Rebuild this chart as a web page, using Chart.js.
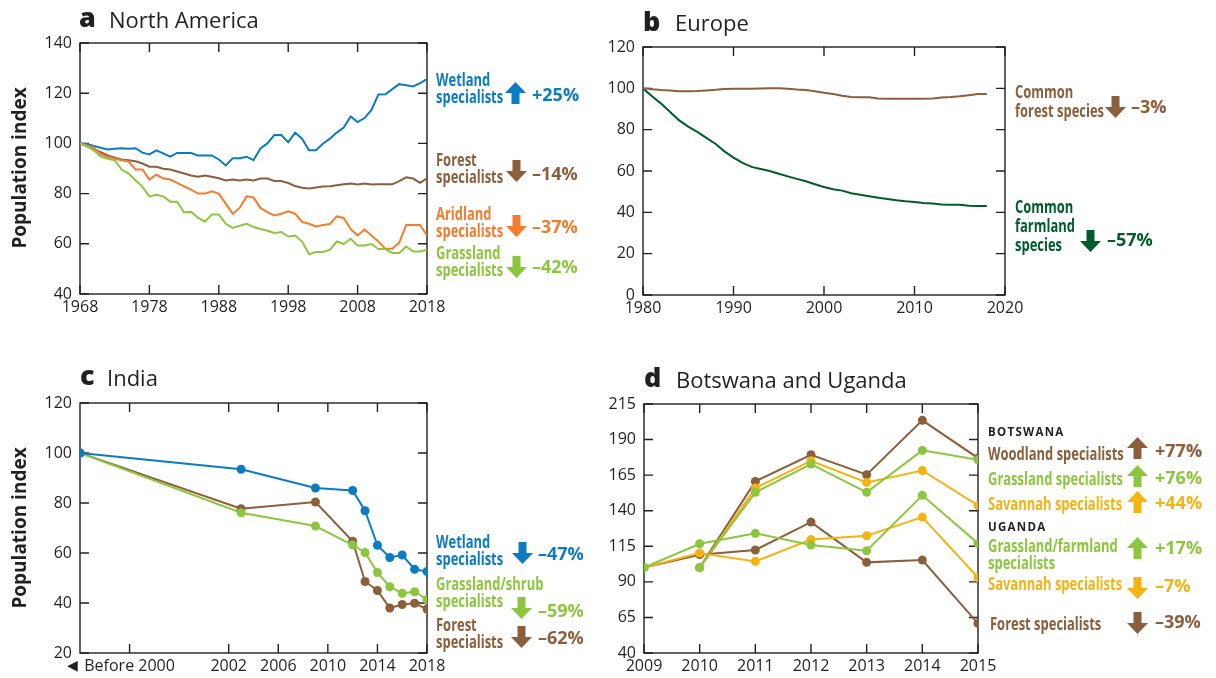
<!DOCTYPE html>
<html>
<head>
<meta charset="utf-8">
<script src="https://cdn.jsdelivr.net/npm/chart.js@4.4.1/dist/chart.umd.min.js"></script>
<style>
  body { margin: 0; width: 1216px; height: 678px; position: relative; overflow: hidden; background: #fff;
         font-family: "Open Sans", sans-serif; color: #231f20; }
  .box { position: absolute; }
  .t { position: absolute; white-space: nowrap; }
  .let { font-size: 27px; line-height: 27px; font-weight: 800; }
  .ttl { font-size: 22px; line-height: 22px; }
  .sl { font-weight: bold; font-size: 18px; line-height: 17px; transform: scaleX(0.72); transform-origin: 0 0; }
  .pc { font-weight: bold; font-size: 18px; line-height: 18px; }
  .cap { font-weight: bold; font-size: 11.5px; line-height: 12px; letter-spacing: 1.3px; }
  .yt { font-weight: bold; font-size: 19px; line-height: 19px; transform: translate(-50%, -50%) rotate(-90deg); }
</style>
</head>
<body>

<div class="box" style="left:0;top:0;width:470px;height:330px"><canvas id="na"></canvas></div>
<div class="box" style="left:560px;top:0;width:480px;height:330px"><canvas id="eu"></canvas></div>
<div class="box" style="left:0;top:360px;width:470px;height:318px"><canvas id="in"></canvas></div>
<div class="box" style="left:560px;top:360px;width:456px;height:318px"><canvas id="af"></canvas></div>

<!-- panel titles -->
<div class="t let" style="left:79px;top:3px">a</div>
<div class="t ttl" style="left:109px;top:7.5px">North America</div>
<div class="t let" style="left:643px;top:7px">b</div>
<div class="t ttl" style="left:675px;top:11px">Europe</div>
<div class="t let" style="left:80px;top:361px">c</div>
<div class="t ttl" style="left:107px;top:365.5px">India</div>
<div class="t let" style="left:644px;top:363px">d</div>
<div class="t ttl" style="left:676px;top:367.5px">Botswana and Uganda</div>

<div class="t yt" style="left:19px;top:168px">Population index</div>
<div class="t yt" style="left:19px;top:528px">Population index</div>
<div class="t" style="left:67px;top:655px;font-size:14px;line-height:20px">◀</div>

<!-- a labels -->
<div class="t sl" style="left:436px;top:70.5px;color:#0b7bc4">Wetland<br>specialists</div>
<div class="t sl" style="left:436px;top:150.5px;color:#8b5e3c">Forest<br>specialists</div>
<div class="t sl" style="left:436px;top:205.2px;color:#f47c2c">Aridland<br>specialists</div>
<div class="t sl" style="left:436px;top:244px;color:#8cc63f">Grassland<br>specialists</div>
<div class="t pc" style="left:532px;top:85px;color:#0b7bc4">+25%</div>
<div class="t pc" style="left:532px;top:164px;color:#8b5e3c">–14%</div>
<div class="t pc" style="left:532px;top:217px;color:#f47c2c">–37%</div>
<div class="t pc" style="left:532px;top:257px;color:#8cc63f">–42%</div>

<!-- b labels -->
<div class="t sl" style="left:1015px;top:81.5px;line-height:19px;color:#8b5e3c">Common<br>forest species</div>
<div class="t sl" style="left:1015px;top:196.5px;line-height:19px;color:#005c2a">Common<br>farmland<br>species</div>
<div class="t pc" style="left:1131px;top:97px;color:#8b5e3c">–3%</div>
<div class="t pc" style="left:1107px;top:230px;color:#005c2a">–57%</div>

<!-- c labels -->
<div class="t sl" style="left:436px;top:533px;color:#0b7bc4">Wetland<br>specialists</div>
<div class="t sl" style="left:436px;top:575.2px;color:#8cc63f">Grassland/shrub<br>specialists</div>
<div class="t sl" style="left:436px;top:615.5px;color:#8b5e3c">Forest<br>specialists</div>
<div class="t pc" style="left:538px;top:544px;color:#0b7bc4">–47%</div>
<div class="t pc" style="left:538px;top:601px;color:#8cc63f">–59%</div>
<div class="t pc" style="left:538px;top:628px;color:#8b5e3c">–62%</div>

<!-- d labels -->
<div class="t cap" style="left:988px;top:425.5px">BOTSWANA</div>
<div class="t sl" style="left:988px;top:444.5px;color:#8b5e3c">Woodland specialists</div>
<div class="t sl" style="left:988px;top:469.5px;color:#8cc63f">Grassland specialists</div>
<div class="t sl" style="left:988px;top:494.5px;color:#f5b312">Savannah specialists</div>
<div class="t cap" style="left:988px;top:521.2px">UGANDA</div>
<div class="t sl" style="left:988px;top:537.2px;color:#8cc63f">Grassland/farmland<br>specialists</div>
<div class="t sl" style="left:988px;top:574.5px;color:#f5b312">Savannah specialists</div>
<div class="t sl" style="left:990px;top:614.5px;color:#8b5e3c">Forest specialists</div>
<div class="t pc" style="left:1155px;top:441px;color:#8b5e3c">+77%</div>
<div class="t pc" style="left:1155px;top:468px;color:#8cc63f">+76%</div>
<div class="t pc" style="left:1155px;top:493px;color:#f5b312">+44%</div>
<div class="t pc" style="left:1155px;top:538px;color:#8cc63f">+17%</div>
<div class="t pc" style="left:1155px;top:575.7px;color:#f5b312">–7%</div>
<div class="t pc" style="left:1155px;top:612px;color:#8b5e3c">–39%</div>

<script>
// colours
const BLUE = "#0b7bc4", BROWN = "#8b5e3c", ORANGE = "#f47c2c", GREEN = "#8cc63f",
      DKGREEN = "#005c2a", YELLOW = "#f5b312", INK = "#231f20";

// a  North America
const naYears = [1968,1969,1970,1971,1972,1973,1974,1975,1976,1977,1978,1979,1980,1981,1982,1983,1984,
  1985,1986,1987,1988,1989,1990,1991,1992,1993,1994,1995,1996,1997,1998,1999,2000,2001,2002,2003,2004,
  2005,2006,2007,2008,2009,2010,2011,2012,2013,2014,2015,2016,2017,2018];
const naWetland = [100,99.8,99,98.3,97.6,97.9,98.1,97.9,98.1,96.3,95.6,97.2,96,94.7,96.2,96.2,96.2,
  95.2,95.2,95.2,93.6,91.2,94.1,94.1,94.7,93.3,98,100,103.3,103.3,100.5,104.3,101.9,97.3,97.3,99.9,101.9,
  104.3,106.3,110.7,108.5,110.1,113.3,119.5,119.6,121.6,123.6,123.2,122.7,124,125.6];
const naForest = [100,98.9,97.6,96.5,95.2,94.3,93.6,93.3,92.9,92,90.7,90.7,89.9,89.6,88.8,88,87.2,
  86.7,87.2,86.7,86.1,85.2,85.6,85.2,85.6,85.2,86,86,85,85,84.2,83,82.3,82,82.4,82.8,82.9,
  83.3,83.7,84,83.6,84,83.6,83.7,83.7,83.7,85,86.5,86,84.3,86.1];
const naArid = [100,99.2,98.3,95.6,94.7,93.9,93.3,92.8,89.6,89.6,85.6,87.5,86.1,85.6,84.3,82.9,81.6,
  80,80,80.9,80,76,72,74.3,78.9,78.5,74.3,72.6,71.3,72,72.9,72,68.7,68,66.9,67.5,67.9,
  70.9,70.3,65.9,63.3,65.7,63.3,60.9,58,58,60.5,67.5,67.5,67.5,63.3];
const naGrass = [100,98.9,97.2,94.7,93.9,93.3,89.6,88,85.3,82.7,78.9,79.5,78.9,76.8,76.8,72.5,72.8,
  70.4,68.8,71.7,71.7,68,66.3,67.2,68,66.7,65.9,65.2,64.3,64.7,62.9,63.3,60.9,55.9,56.7,56.7,57.6,
  60.9,59.9,62,59.3,59.3,59.9,57.9,57.9,56.3,56.3,58.9,56.9,56.9,57.6];
const naTicksX = [1968,1978,1988,1998,2008,2018];
const naTicksY = [40,60,80,100,120,140];

// b  Europe
const euYears = [1980,1981,1982,1983,1984,1985,1986,1987,1988,1989,1990,1991,1992,1993,1994,1995,
  1996,1997,1998,1999,2000,2001,2002,2003,2004,2005,2006,2007,2008,2009,2010,2011,2012,2013,2014,
  2015,2016,2017,2018];
const euForest = [100,99.6,99.2,99,98.6,98.6,98.7,99,99.3,99.7,99.8,99.8,99.8,99.9,100,100,
  99.8,99.4,99.2,98.6,97.9,97.3,96.4,95.8,95.7,95.7,95.1,95,95,95,95,95,95.1,95.6,95.8,
  96.2,96.7,97.2,97.3];
const euFarm = [100,96.2,92.6,88.5,84.5,81.5,78.9,76,73.2,69.5,66.5,63.9,62,61,60,58.7,
  57.4,56.2,55,53.6,52.3,51.2,50.5,49.2,48.5,47.8,47.1,46.5,45.9,45.4,45,44.5,44.3,43.8,43.7,
  43.7,43.2,43.1,43.1];
const euTicksX = [1980,1990,2000,2010,2020];
const euTicksY = [0,20,40,60,80,100,120];

// c  India
const inYears = [1990,2003,2009,2012,2013,2014,2015,2016,2017,2018];
const inWetland = [100,93.5,86,85,76.9,63.1,58.2,59.2,53.5,52.6];
const inGrass = [100,76.1,70.8,63.2,60.2,52.2,46.5,43.9,44.5,41.4];
const inForest = [100,77.7,80.4,64.7,48.6,45,38,39.4,39.9,37.6];
const inTicksX = [1994,2002,2006,2010,2014,2018];
const inTickLabels = ["Before 2000","2002","2006","2010","2014","2018"];
const inTicksY = [20,40,60,80,100,120];

// d  Botswana and Uganda
const afYears = [2009,2010,2011,2012,2013,2014,2015];
const bwWoodland = [null,100,160.6,179.3,165.3,203.5,177];
const bwGrass = [null,100,152.9,172.8,152.9,182.4,175.8];
const bwSavannah = [null,100,155.9,175.1,159.9,168.3,143.7];
const ugGrass = [100,116.8,124.1,115.9,111.9,150.8,117];
const ugSavannah = [100,110.3,104.4,119.7,122.4,135.5,93];
const ugForest = [100,109.1,112.4,132,103.7,105.3,60.8];
const afTicksY = [40,65,90,115,140,165,190,215];

// arrows
function arrow(x, y, up, color) {
  const ns = "http://www.w3.org/2000/svg";
  const svg = document.createElementNS(ns, "svg");
  svg.setAttribute("width", 21); svg.setAttribute("height", 22);
  svg.style.cssText = `position:absolute;left:${x}px;top:${y}px`;
  const p = document.createElementNS(ns, "polygon");
  p.setAttribute("points", up ? "10.5,0 21,11 14.5,11 14.5,22 6.5,22 6.5,11 0,11"
                              : "10.5,22 21,11 14.5,11 14.5,0 6.5,0 6.5,11 0,11");
  p.setAttribute("fill", color);
  svg.appendChild(p);
  document.body.appendChild(svg);
}
arrow(505, 82, true, BLUE); arrow(506, 160, false, BROWN); arrow(506, 215, false, ORANGE); arrow(506, 256, false, GREEN);
arrow(1105, 96, false, BROWN); arrow(1080, 230, false, DKGREEN);
arrow(512, 542, false, BLUE); arrow(511, 597, false, GREEN); arrow(511, 626, false, BROWN);
arrow(1127, 437, true, BROWN); arrow(1127, 465, true, GREEN); arrow(1127, 491, true, YELLOW);
arrow(1127, 537, true, GREEN); arrow(1127, 577, false, YELLOW); arrow(1127, 612, false, BROWN);

// frame with inward ticks
const frame = {
  id: "frame",
  beforeDatasetsDraw(chart) {
    const { ctx, chartArea: a, scales: { x, y } } = chart;
    ctx.save();
    ctx.strokeStyle = INK;
    ctx.lineWidth = 1.4;
    ctx.strokeRect(a.left, a.top, a.right - a.left, a.bottom - a.top);
    ctx.beginPath();
    x.ticks.forEach(t => {
      const px = x.getPixelForValue(t.value);
      ctx.moveTo(px, a.bottom); ctx.lineTo(px, a.bottom - 9);
      ctx.moveTo(px, a.top); ctx.lineTo(px, a.top + 9);
    });
    y.ticks.forEach(t => {
      const py = y.getPixelForValue(t.value);
      ctx.moveTo(a.left, py); ctx.lineTo(a.left + 9, py);
      ctx.moveTo(a.right, py); ctx.lineTo(a.right - 9, py);
    });
    ctx.stroke();
    ctx.restore();
  }
};

const tickFont = { family: "Open Sans", size: 16 };

function pts(xs, ys) {
  return xs.map((v, i) => ({ x: v, y: ys[i] })).filter(p => p.y !== null);
}

function line(label, xs, ys, color, dots) {
  return {
    label, data: pts(xs, ys), borderColor: color, backgroundColor: color,
    borderWidth: 2, tension: 0, pointRadius: dots ? 4.5 : 0, pointBorderWidth: 0
  };
}

function makeChart(id, datasets, o) {
  new Chart(document.getElementById(id), {
    type: "line",
    data: { datasets },
    options: {
      responsive: true, maintainAspectRatio: false, animation: false,
      layout: { padding: o.pad },
      plugins: { legend: { display: false }, tooltip: { enabled: false } },
      scales: {
        x: {
          type: "linear", min: o.xmin, max: o.xmax,
          grid: { display: false, drawTicks: false }, border: { display: false },
          ticks: { font: tickFont, color: INK, padding: 4, maxRotation: 0, autoSkip: false,
                   callback: o.xlab || (v => String(v)) },
          afterBuildTicks: s => { s.ticks = o.xticks.map(v => ({ value: v })); },
          afterFit: s => { s.height = o.xh; }
        },
        y: {
          min: o.ymin, max: o.ymax,
          grid: { display: false, drawTicks: false }, border: { display: false },
          ticks: { font: tickFont, color: INK, padding: 8, autoSkip: false },
          afterBuildTicks: s => { s.ticks = o.yticks.map(v => ({ value: v })); },
          afterFit: s => { s.width = o.yw; }
        }
      }
    },
    plugins: [frame]
  });
}

makeChart("na", [
  line("Grassland specialists", naYears, naGrass, GREEN),
  line("Aridland specialists", naYears, naArid, ORANGE),
  line("Forest specialists", naYears, naForest, BROWN),
  line("Wetland specialists", naYears, naWetland, BLUE)
], { pad: { top: 43, right: 43, left: 0, bottom: 0 }, xmin: 1968, xmax: 2018, ymin: 40, ymax: 140,
     xticks: naTicksX, yticks: naTicksY, xh: 36, yw: 80 });

makeChart("eu", [
  line("Common forest species", euYears, euForest, BROWN),
  line("Common farmland species", euYears, euFarm, DKGREEN)
], { pad: { top: 47, right: 35, left: 0, bottom: 0 }, xmin: 1980, xmax: 2020, ymin: 0, ymax: 120,
     xticks: euTicksX, yticks: euTicksY, xh: 35, yw: 83 });

makeChart("in", [
  line("Wetland specialists", inYears, inWetland, BLUE, true),
  line("Grassland/shrub specialists", inYears, inGrass, GREEN, true),
  line("Forest specialists", inYears, inForest, BROWN, true)
], { pad: { top: 43, right: 43, left: 0, bottom: 0 }, xmin: 1990, xmax: 2018, ymin: 20, ymax: 120,
     xticks: inTicksX, yticks: inTicksY, xh: 25, yw: 80,
     xlab: v => inTickLabels[inTicksX.indexOf(v)] });

makeChart("af", [
  line("Uganda grassland/farmland specialists", afYears, ugGrass, GREEN, true),
  line("Uganda savannah specialists", afYears, ugSavannah, YELLOW, true),
  line("Uganda forest specialists", afYears, ugForest, BROWN, true),
  line("Botswana grassland specialists", afYears, bwGrass, GREEN, true),
  line("Botswana savannah specialists", afYears, bwSavannah, YELLOW, true),
  line("Botswana woodland specialists", afYears, bwWoodland, BROWN, true)
], { pad: { top: 44, right: 38, left: 0, bottom: 0 }, xmin: 2009, xmax: 2015, ymin: 40, ymax: 215,
     xticks: afYears, yticks: afTicksY, xh: 25, yw: 84 });
</script>
</body>
</html>
